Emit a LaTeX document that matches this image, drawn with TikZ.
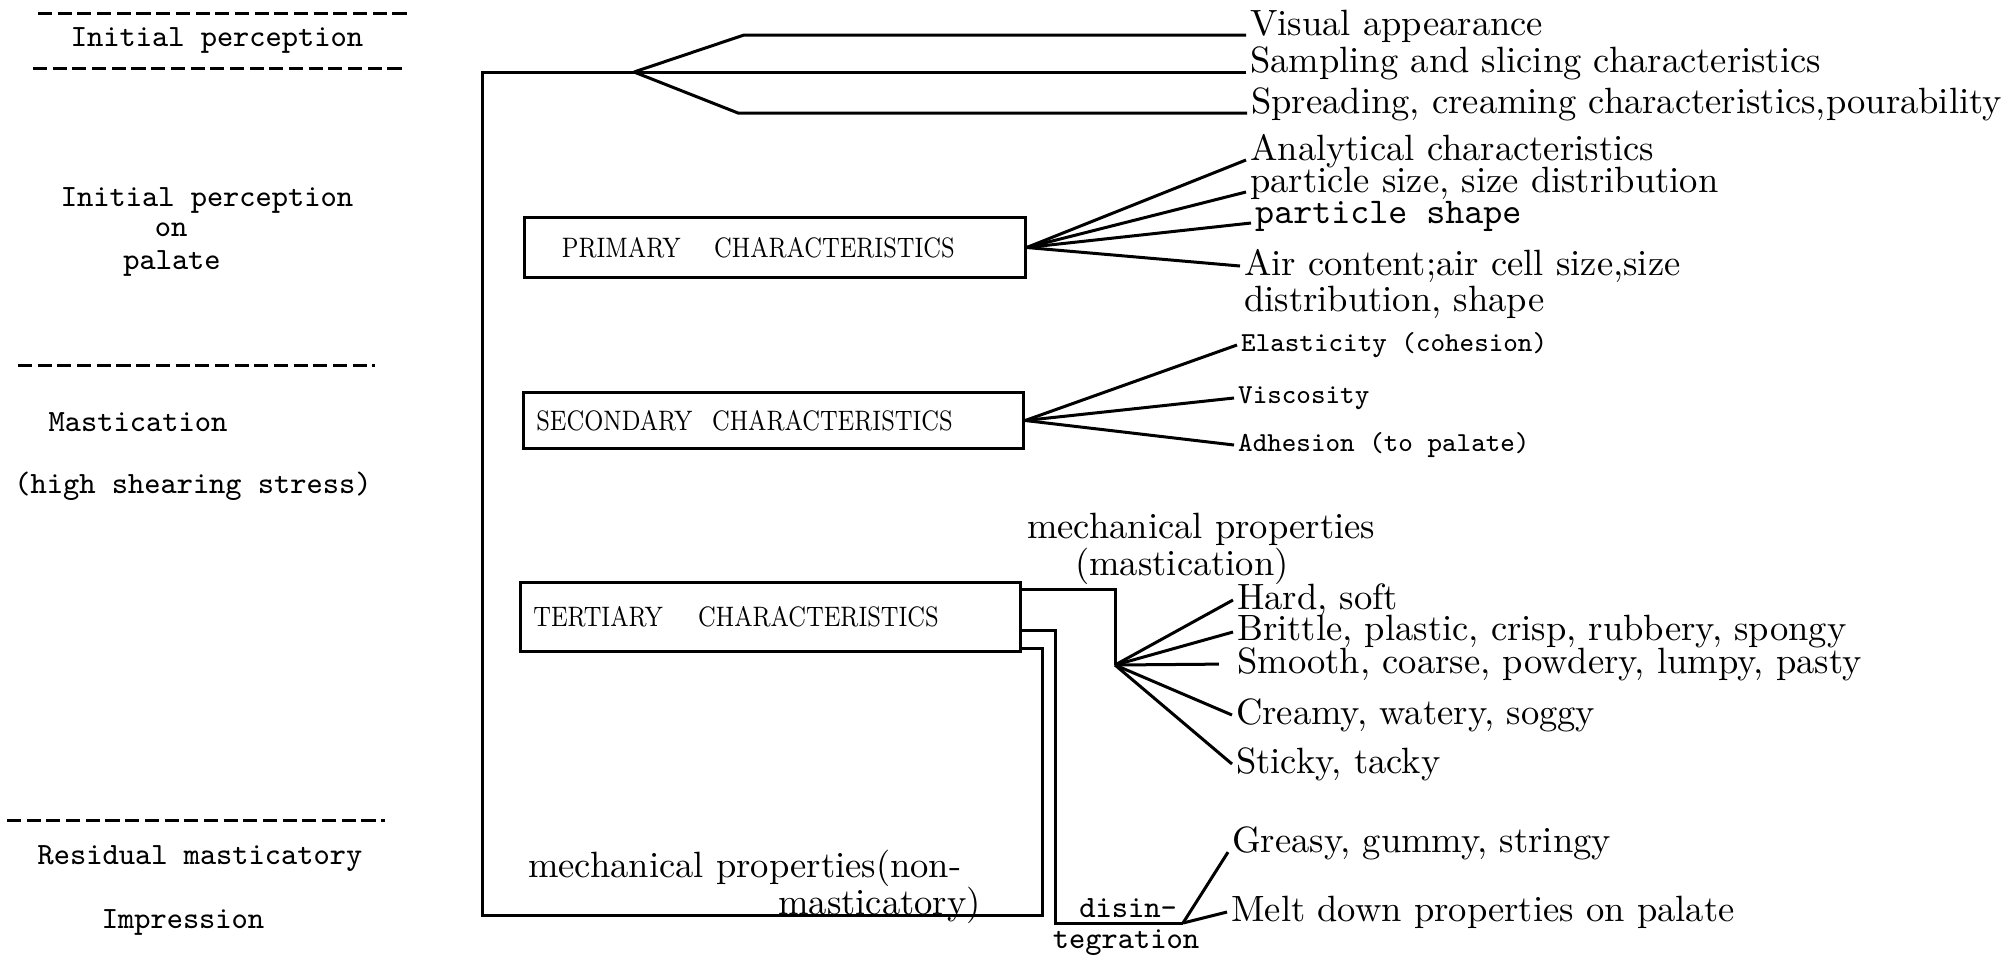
\documentclass[tikz,border=0pt]{standalone}
\usepackage{fontspec}
\usetikzlibrary{calc}
\tikzset{>=latex}
\tikzstyle{frameline}=[draw=black,line width=0.3mm]
\tikzstyle{forkline}=[draw=black,line width=0.3mm]
\tikzstyle{dashline}=[draw=black,line width=0.3mm,dash pattern=on 4pt off 1.6pt]
\tikzstyle{stagetxt}=[font=\fontsize{8.8}{10}\selectfont\ttfamily,inner sep=1pt]
\tikzstyle{itemtxt}=[font=\fontsize{10.4}{12}\selectfont,inner sep=1pt]
\tikzstyle{typetxt}=[font=\fontsize{7.8}{9}\selectfont\ttfamily,inner sep=1pt]
\tikzstyle{charbox}=[draw=black,line width=0.3mm,font=\fontsize{8}{9}\selectfont,text width=4.74cm,inner xsep=0.13cm,inner ysep=0pt,align=left]
\newcommand{\boxlabel}[1]{\scalebox{0.82}[1]{#1}}

\begin{document}
\begin{tikzpicture}[x=0.01cm,y=-0.01cm]
    \useasboundingbox (0,0) rectangle (2006,957);

    % stages on the left
    \draw[dashline] (38,13) -- (407,13);
    \node[stagetxt] (ip1) at (217,40) {Initial perception};
    \draw[dashline] (33,68) -- (407,68);
    \node[stagetxt] (ip2) at (207,200) {Initial perception};
    \node[stagetxt] (on) at (171,230) {on};
    \node[stagetxt] (pal) at (172,263) {palate};
    \draw[dashline] (18,365) -- (375,365);
    \node[stagetxt] (mas) at (138,422) {Mastication};
    \node[stagetxt] (hss) at (193,486) {(high shearing stress)};
    \draw[dashline] (7,820) -- (385,820);
    \node[stagetxt] (res) at (200,859) {Residual masticatory};
    \node[stagetxt] (imp) at (183,922) {Impression};

    % the three boxes
    \node[charbox,minimum height=0.59cm] (pri) at (775,247.5) {\hspace*{0.24cm}\boxlabel{PRIMARY\hspace{0.41cm}CHARACTERISTICS}};
    \node[charbox,minimum height=0.55cm] (sec) at (773.5,420.5) {\boxlabel{SECONDARY\hspace{0.24cm}CHARACTERISTICS}};
    \node[charbox,minimum height=0.68cm] (ter) at (770.5,617) {\boxlabel{TERTIARY\hspace{0.43cm}CHARACTERISTICS}};

    % initial perception
    \node[itemtxt,anchor=base west] (vis) at (1246,35) {Visual appearance};
    \node[itemtxt,anchor=base west] (sam) at (1246,72) {Sampling and slicing characteristics};
    \node[itemtxt,anchor=base west] (spr) at (1247,113) {Spreading, creaming characteristics,pourability};
    \coordinate (topfork) at (634,72);
    \draw[forkline] (topfork) -- (744,35) -- (vis.base west);
    \draw[forkline] (topfork) -- (738,113) -- (spr.base west);

    % primary
    \node[itemtxt,anchor=base west] (ana) at (1246,160) {Analytical characteristics};
    \node[itemtxt,anchor=base west] (par) at (1246,192) {particle size, size distribution};
    \node[itemtxt,anchor=base west,font=\fontsize{10.3}{12}\selectfont\ttfamily] (shp) at (1251,223) {particle shape};
    \node[itemtxt,anchor=north west,align=left] (air) at (1240,245) {Air content;air cell size,size\\[-1.6pt]distribution, shape};
    \foreach \t/\a in {ana/base west,par/base west,shp/base west}
        \draw[forkline] (pri.east) -- (\t.\a);
    \draw[forkline] (pri.east) -- ($(air.north west)+(0,21)$);

    % secondary
    \node[typetxt,anchor=west] (ela) at (1237,345) {Elasticity (cohesion)};
    \node[typetxt,anchor=west] (visc) at (1234,398) {Viscosity};
    \node[typetxt,anchor=west] (adh) at (1234,445) {Adhesion (to palate)};
    \foreach \t in {ela,visc,adh}
        \draw[forkline] (sec.east) -- (\t.west);

    % tertiary
    \node[itemtxt,anchor=north west,align=left] (mpm) at (1023,509) {mechanical properties\\[-1.6pt]\hspace*{0.48cm}(mastication)};
    \node[itemtxt,anchor=west] (har) at (1233,600) {Hard, soft};
    \node[itemtxt,anchor=west] (bri) at (1233,632) {Brittle, plastic, crisp, rubbery, spongy};
    \node[itemtxt,anchor=west] (smo) at (1233,664) {Smooth, coarse, powdery, lumpy, pasty};
    \node[itemtxt,anchor=west] (cre) at (1232,715) {Creamy, watery, soggy};
    \node[itemtxt,anchor=west] (sti) at (1232,764) {Sticky, tacky};
    \coordinate (terfork) at (1115,665);
    \draw[frameline] ($(ter.east)+(0,-28)$) -| (terfork);
    \foreach \t in {har,bri,cre,sti}
        \draw[forkline] (terfork) -- (\t.west);
    \draw[forkline,shorten >=4pt] (terfork) -- (smo.west);

    % non-masticatory loop back to the start
    \node[itemtxt,anchor=west] (mnm) at (524,868) {mechanical properties(non-};
    \node[itemtxt,anchor=east] (mnm2) at (985,905) {masticatory)};
    \draw[frameline] ($(ter.east)+(0,31)$) -| (1042,915) -| (482,72) -- (sam.base west);

    % disintegration
    \node[stagetxt] (dis) at (1128,908) {disin-};
    \node[stagetxt] (dis2) at (1126,943) {tegration};
    \node[itemtxt,anchor=west] (gre) at (1228,843) {Greasy, gummy, stringy};
    \node[itemtxt,anchor=west] (mel) at (1227,912) {Melt down properties on palate};
    \coordinate (disfork) at (1183,923);
    \draw[frameline] ($(ter.east)+(0,13)$) -| (1055,923) -- (disfork);
    \draw[forkline] (disfork) -- (gre.base west);
    \draw[forkline] (disfork) -- (mel.west);
\end{tikzpicture}
\end{document}
